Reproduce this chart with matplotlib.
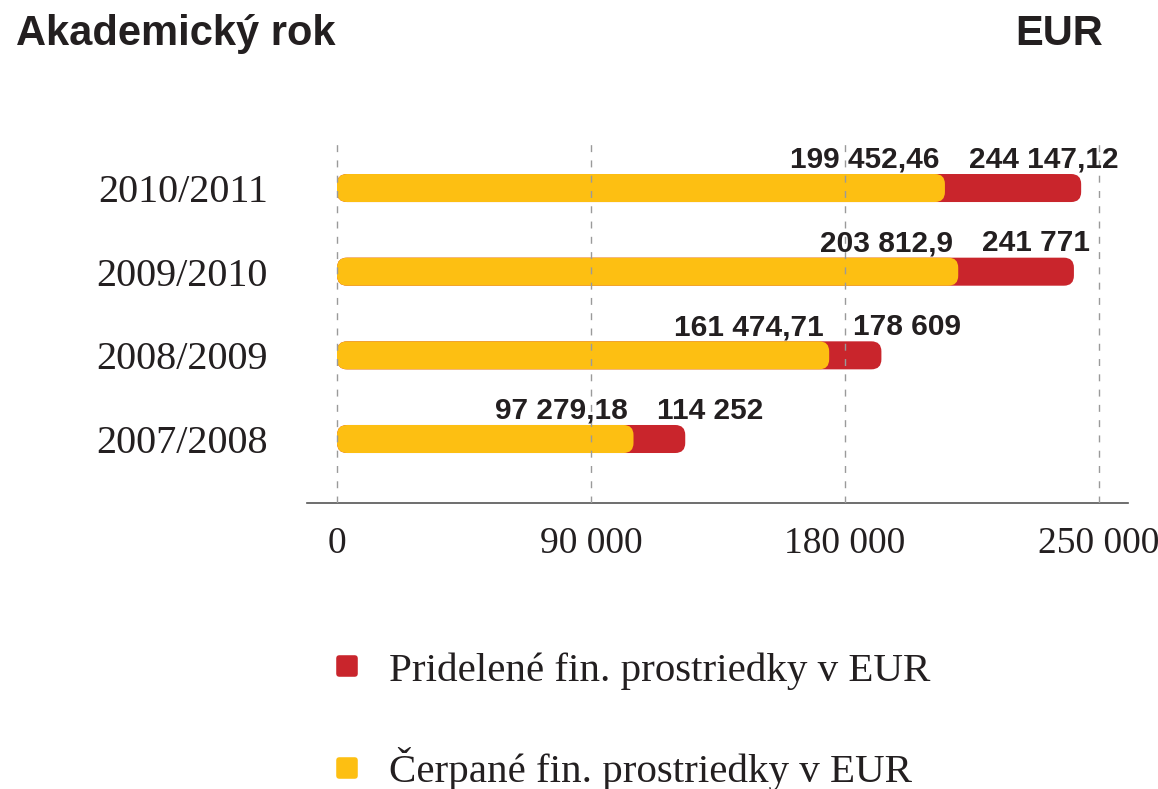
import matplotlib
matplotlib.use('Agg')
import matplotlib.pyplot as plt
from matplotlib.patches import FancyBboxPatch
from matplotlib.lines import Line2D
from matplotlib.markers import MarkerStyle

# data (bottom to top)
years = ['2007/2008', '2008/2009', '2009/2010', '2010/2011']
allocated = [114252, 178609, 241771, 244147.12]
spent = [97279.18, 161474.71, 203812.9, 199452.46]
allocated_labels = ['114 252', '178 609', '241 771', '244 147,12']
spent_labels = ['97 279,18', '161 474,71', '203 812,9', '199 452,46']
tick_values = [0, 250000 / 3, 500000 / 3, 250000]
tick_labels = ['0', '90 000', '180 000', '250 000']
legend_labels = ['Pridelené fin. prostriedky v EUR', 'Čerpané fin. prostriedky v EUR']

RED = '#C9252C'
YELLOW = '#FDBF12'
INK = '#231F20'
SERIF = 'Liberation Serif'
SANS = 'Liberation Sans'


def round_bars(ax, bars, color, radius_px):
    '''Replace the plain rectangles of a barh container by rounded ones.'''
    (x0, y0), (x1, y1) = ax.transData.transform([(0, 0), (1, 1)])
    px_x = abs(x1 - x0)
    px_y = abs(y1 - y0)
    for rect in bars:
        x, y = rect.get_xy()
        w, h = rect.get_width(), rect.get_height()
        rect.remove()
        patch = FancyBboxPatch((x, y), w, h,
                               boxstyle=f'round,pad=0,rounding_size={radius_px / px_x}',
                               mutation_aspect=px_x / px_y,
                               fc=color, ec='none', zorder=1)
        ax.add_patch(patch)


fig = plt.figure(figsize=(11.58, 7.89), dpi=100)
ax = fig.add_axes([307 / 1158, 1 - 503 / 789, 821 / 1158, 363 / 789])
ax.set_xlim(-9843, 259514)
ax.set_ylim(-0.765, 3.574)

pos = list(range(len(years)))
bar_h = 0.335
red_bars = ax.barh(pos, allocated, height=bar_h, color=RED)
yellow_bars = ax.barh(pos, spent, height=bar_h, color=YELLOW)
round_bars(ax, red_bars, RED, 10)
round_bars(ax, yellow_bars, YELLOW, 10)

for p, s, sl, al in zip(pos, spent, spent_labels, allocated_labels):
    ax.annotate(sl, (s, p + bar_h / 2), xytext=(-4, 4.5), textcoords='offset points',
                ha='right', va='baseline', fontsize=21.5, fontweight='bold',
                family=SANS, color=INK)
    ax.annotate(al, (s, p + bar_h / 2), xytext=(17, 4.5), textcoords='offset points',
                ha='left', va='baseline', fontsize=21.5, fontweight='bold',
                family=SANS, color=INK)

ax.set_yticks(pos)
ax.set_yticklabels(years, family=SERIF, fontsize=29, color=INK)
ax.set_xticks(tick_values)
ax.set_xticklabels(tick_labels, family=SERIF, fontsize=27, color=INK)
ax.tick_params(axis='y', length=0, pad=28)
ax.tick_params(axis='x', length=0, pad=17)

ax.set_axisbelow(False)
ax.grid(axis='x', color='#9a9a9a', linestyle=(0, (5, 6)), linewidth=1.0, zorder=3)
for side in ['top', 'right', 'left']:
    ax.spines[side].set_visible(False)
ax.spines['bottom'].set_color('#555555')
ax.spines['bottom'].set_linewidth(1.2)

fig.text(16 / 1158, 1 - 45 / 789, 'Akademický rok', ha='left', va='baseline',
         fontsize=30, fontweight='bold', family=SANS, color=INK)
fig.text(1103 / 1158, 1 - 45 / 789, 'EUR', ha='right', va='baseline',
         fontsize=30, fontweight='bold', family=SANS, color=INK)

handles = [Line2D([], [], linestyle='none', marker=MarkerStyle('s', joinstyle='round'),
                  markersize=12, markeredgewidth=4, color=c) for c in [RED, YELLOW]]
fig.legend(handles, legend_labels, loc='upper left', bbox_to_anchor=(327 / 1158, 1 - 652 / 789),
           frameon=False, borderpad=0, borderaxespad=0, handlelength=1.0, handletextpad=0.52,
           labelspacing=1.4, prop={'family': SERIF, 'size': 29.5}, labelcolor=INK)

fig.savefig('out.png', dpi=100)
